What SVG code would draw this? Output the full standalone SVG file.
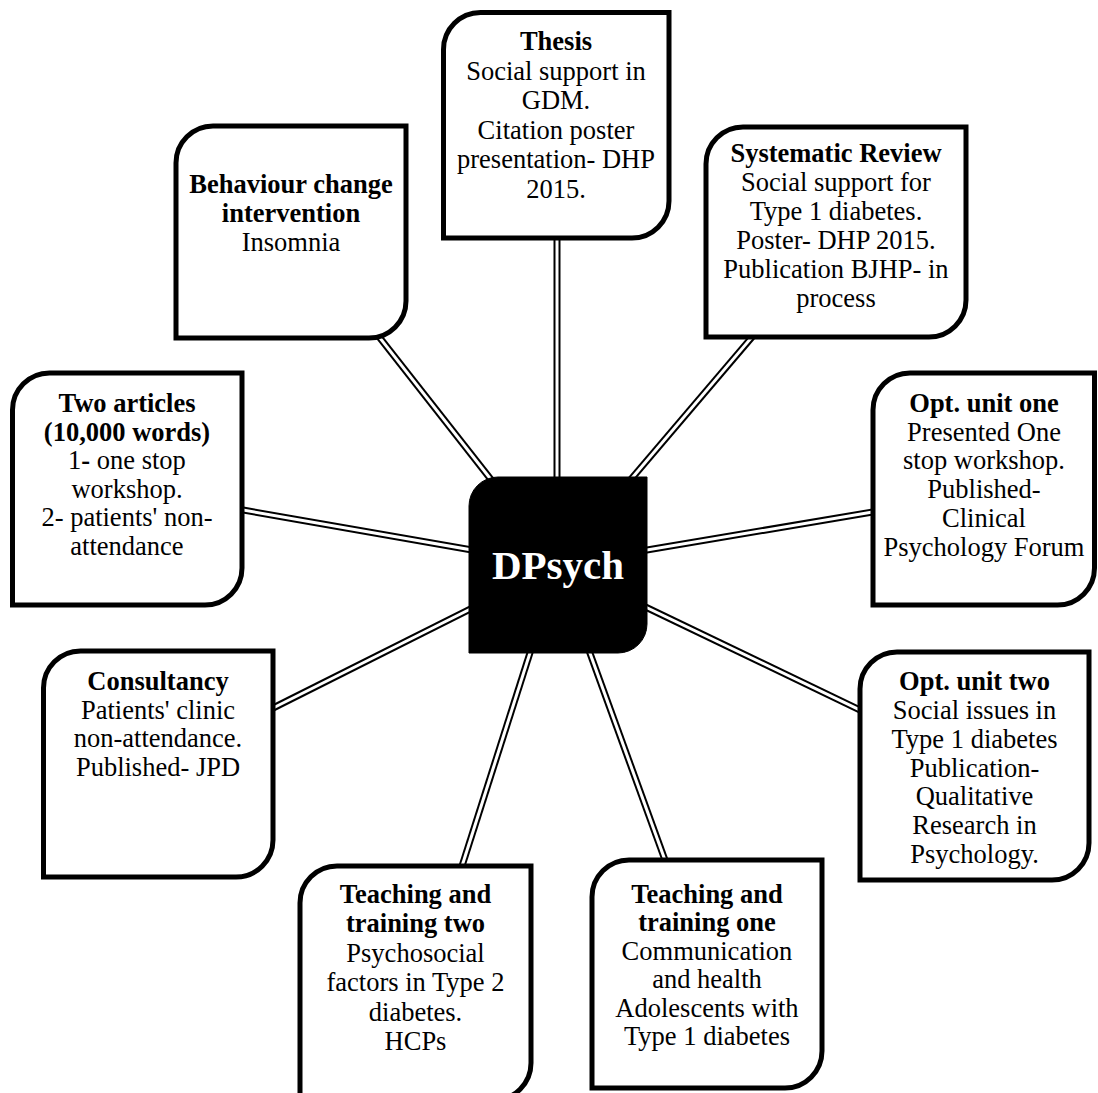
<svg xmlns="http://www.w3.org/2000/svg" width="1098" height="1093" viewBox="0 0 1098 1093">
  <style>
    .box { fill: #ffffff; stroke: #000000; stroke-width: 5; }
    .hub { fill: #000000; stroke: #000000; stroke-width: 1; }
    .rail { stroke: #000000; stroke-width: 7; stroke-linecap: butt; }
    .gap { stroke: #ffffff; stroke-width: 3; stroke-linecap: butt; }
    text { font-family: "Liberation Serif", "Times New Roman", serif; font-size: 26.5px; fill: #000000; text-anchor: middle; }
    .b { font-weight: bold; }
    .hubtext { font-size: 41px; font-weight: bold; fill: #ffffff; }
  </style>
  <rect x="0" y="0" width="1098" height="1093" fill="#ffffff"/>

  <!-- double-line spokes from each unit to the hub -->
  <g id="connectors">
    <g id="c-thesis"><line class="rail" x1="557" y1="230" x2="557" y2="565"/><line class="gap" x1="557" y1="230" x2="557" y2="565"/></g>
    <g id="c-behaviour"><line class="rail" x1="373.8" y1="330.1" x2="558" y2="565"/><line class="gap" x1="373.8" y1="330.1" x2="558" y2="565"/></g>
    <g id="c-review"><line class="rail" x1="758.5" y1="329.4" x2="558" y2="565"/><line class="gap" x1="758.5" y1="329.4" x2="558" y2="565"/></g>
    <g id="c-articles"><line class="rail" x1="233.2" y1="508.3" x2="558" y2="565"/><line class="gap" x1="233.2" y1="508.3" x2="558" y2="565"/></g>
    <g id="c-opt1"><line class="rail" x1="882.9" y1="510.3" x2="558" y2="565"/><line class="gap" x1="882.9" y1="510.3" x2="558" y2="565"/></g>
    <g id="c-consult"><line class="rail" x1="264.1" y1="712.5" x2="558" y2="565"/><line class="gap" x1="264.1" y1="712.5" x2="558" y2="565"/></g>
    <g id="c-opt2"><line class="rail" x1="869" y1="714.3" x2="558" y2="565"/><line class="gap" x1="869" y1="714.3" x2="558" y2="565"/></g>
    <g id="c-teach2"><line class="rail" x1="459" y1="875.5" x2="558" y2="565"/><line class="gap" x1="459" y1="875.5" x2="558" y2="565"/></g>
    <g id="c-teach1"><line class="rail" x1="668.4" y1="869.4" x2="558" y2="565"/><line class="gap" x1="668.4" y1="869.4" x2="558" y2="565"/></g>
  </g>

  <g id="thesis">
    <path class="box" d="M480.5,12.5 H669 V201 A37,37 0 0 1 632,238 H443.5 V49.5 A37,37 0 0 1 480.5,12.5 Z"/>
    <text><tspan class="b" x="556" y="50">Thesis</tspan><tspan x="556" y="80">Social support in</tspan><tspan x="556" y="109">GDM.</tspan><tspan x="556" y="139">Citation poster</tspan><tspan x="556" y="168">presentation- DHP</tspan><tspan x="556" y="198">2015.</tspan></text>
  </g>

  <g id="behaviour">
    <path class="box" d="M213,126 H406 V301 A37,37 0 0 1 369,338 H176 V163 A37,37 0 0 1 213,126 Z"/>
    <text><tspan class="b" x="291" y="193">Behaviour change</tspan><tspan class="b" x="291" y="222">intervention</tspan><tspan x="291" y="251">Insomnia</tspan></text>
  </g>

  <g id="review">
    <path class="box" d="M743,127 H966 V300 A37,37 0 0 1 929,337 H706 V164 A37,37 0 0 1 743,127 Z"/>
    <text><tspan class="b" x="836" y="162">Systematic Review</tspan><tspan x="836" y="191">Social support for</tspan><tspan x="836" y="220">Type 1 diabetes.</tspan><tspan x="836" y="249">Poster- DHP 2015.</tspan><tspan x="836" y="278">Publication BJHP- in</tspan><tspan x="836" y="307">process</tspan></text>
  </g>

  <g id="articles">
    <path class="box" d="M49.5,373 H242 V568 A37,37 0 0 1 205,605 H12.5 V410 A37,37 0 0 1 49.5,373 Z"/>
    <text><tspan class="b" x="127" y="412">Two articles</tspan><tspan class="b" x="127" y="441">(10,000 words)</tspan><tspan x="127" y="469">1<tspan class="b">-</tspan> one stop</tspan><tspan x="127" y="498">workshop.</tspan><tspan x="127" y="526">2- patients' non-</tspan><tspan x="127" y="555">attendance</tspan></text>
  </g>

  <g id="opt-one">
    <path class="box" d="M910,373 H1094.5 V568 A37,37 0 0 1 1057.5,605 H873 V410 A37,37 0 0 1 910,373 Z"/>
    <text><tspan class="b" x="984" y="412">Opt. unit one</tspan><tspan x="984" y="441">Presented One</tspan><tspan x="984" y="469">stop workshop.</tspan><tspan x="984" y="498">Published-</tspan><tspan x="984" y="527">Clinical</tspan><tspan x="984" y="556">Psychology Forum</tspan></text>
  </g>

  <g id="consultancy">
    <path class="box" d="M80.5,651 H273 V840 A37,37 0 0 1 236,877 H43.5 V688 A37,37 0 0 1 80.5,651 Z"/>
    <text><tspan class="b" x="158" y="690">Consultancy</tspan><tspan x="158" y="719">Patients' clinic</tspan><tspan x="158" y="747">non-attendance.</tspan><tspan x="158" y="776">Published- JPD</tspan></text>
  </g>

  <g id="opt-two">
    <path class="box" d="M897,652 H1089 V843 A37,37 0 0 1 1052,880 H860 V689 A37,37 0 0 1 897,652 Z"/>
    <text><tspan class="b" x="974.5" y="690">Opt. unit two</tspan><tspan x="974.5" y="719">Social issues in</tspan><tspan x="974.5" y="748">Type 1 diabetes</tspan><tspan x="974.5" y="777">Publication-</tspan><tspan x="974.5" y="805">Qualitative</tspan><tspan x="974.5" y="834">Research in</tspan><tspan x="974.5" y="863">Psychology.</tspan></text>
  </g>

  <g id="teaching-two">
    <path class="box" d="M337,866 H531 V1063 A37,37 0 0 1 494,1100 H300 V903 A37,37 0 0 1 337,866 Z"/>
    <text><tspan class="b" x="415.5" y="903">Teaching and</tspan><tspan class="b" x="415.5" y="932">training two</tspan><tspan x="415.5" y="962">Psychosocial</tspan><tspan x="415.5" y="991">factors in Type 2</tspan><tspan x="415.5" y="1021">diabetes.</tspan><tspan x="415.5" y="1050">HCPs</tspan></text>
  </g>

  <g id="teaching-one">
    <path class="box" d="M629,860 H822 V1051 A37,37 0 0 1 785,1088 H592 V897 A37,37 0 0 1 629,860 Z"/>
    <text><tspan class="b" x="707" y="903">Teaching and</tspan><tspan class="b" x="707" y="931">training one</tspan><tspan x="707" y="960">Communication</tspan><tspan x="707" y="988">and health</tspan><tspan x="707" y="1017">Adolescents with</tspan><tspan x="707" y="1045">Type 1 diabetes</tspan></text>
  </g>

  <g id="dpsych">
    <path class="hub" d="M498,477 H647 V624 A29,29 0 0 1 618,653 H469 V506 A29,29 0 0 1 498,477 Z"/>
    <text class="hubtext" x="558" y="579">DPsych</text>
  </g>
</svg>
